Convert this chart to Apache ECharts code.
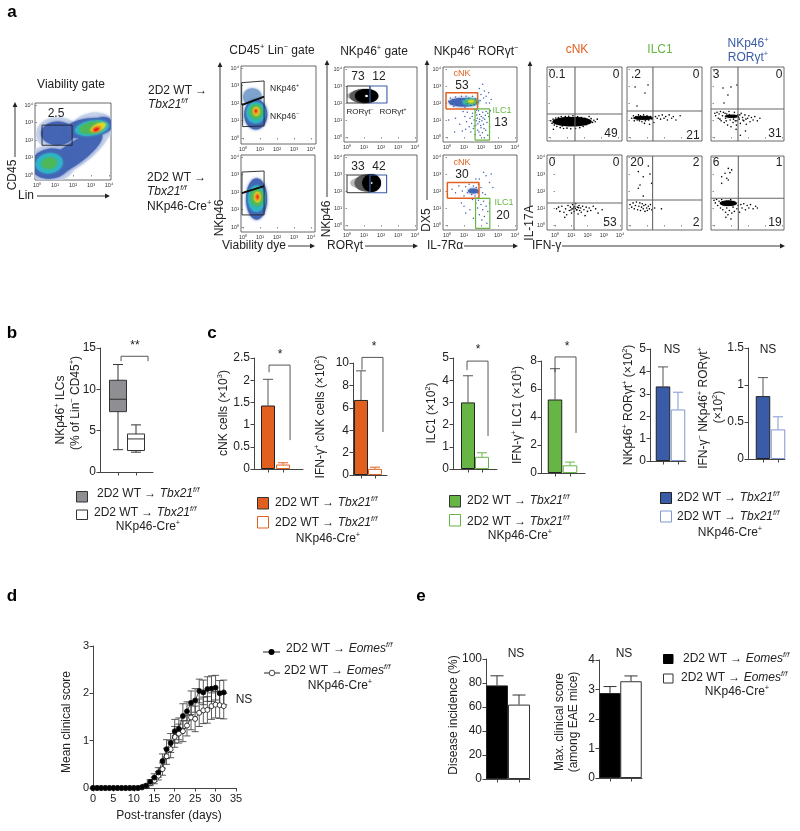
<!DOCTYPE html>
<html><head><meta charset="utf-8"><style>html,body{margin:0;padding:0;background:#fff}#c{width:800px;height:831px}</style>
<script src="https://cdn.jsdelivr.net/npm/echarts@6/dist/echarts.min.js"></script></head><body><div id="c"></div>
<script>
// ---------- data ----------
const logTicks=[0,1,2,3,4];
const boxWT=[1,2.7,7.3,8.8,11.1,13.0], boxCre=[2,2.4,2.6,4.0,4.6,5.7];
const cNKcells=[1.43,0.10], cNKcellsErr=[2.02,0.14];
const ifnCNK=[6.7,0.55], ifnCNKErr=[9.3,0.7];
const ilc1=[3.0,0.55], ilc1Err=[4.2,0.73];
const ifnILC1=[5.25,0.55], ifnILC1Err=[7.45,0.78];
const ror=[3.33,2.3], rorErr=[4.2,3.07];
const ifnRor=[0.85,0.4], ifnRorErr=[1.1,0.57];
const incidence=[78,62], incidenceErr=[86,70];
const maxScore=[2.88,3.28], maxScoreErr=[3.1,3.46];
const days=[0,1,2,3,4,5,6,7,8,9,10,11,12,13,14,15,16,17,18,19,20,21,22,23,24,25,26,27,28,29,30,31,32];
const eomesWT=[0,0,0,0,0,0,0,0,0,0,0,0,0.02,0.05,0.13,0.22,0.33,0.57,0.82,0.95,1.2,1.25,1.52,1.62,1.8,1.85,2.05,2.02,2.09,2.1,2.12,2.0,2.02];
const eomesWTErr=[0,0,0,0,0,0,0,0,0,0,0,0,0,0.03,0.05,0.08,0.1,0.15,0.2,0.2,0.25,0.23,0.26,0.2,0.25,0.25,0.25,0.26,0.26,0.27,0.26,0.27,0.26];
const eomesCre=[0,0,0,0,0,0,0,0,0,0,0,0,0.01,0.04,0.1,0.16,0.26,0.4,0.67,0.82,1.08,1.15,1.2,1.32,1.49,1.46,1.59,1.64,1.65,1.73,1.76,1.75,1.73];
const eomesCreErr=[0,0,0,0,0,0,0,0,0,0,0,0,0,0.03,0.05,0.07,0.09,0.13,0.17,0.18,0.22,0.2,0.22,0.22,0.26,0.27,0.29,0.28,0.28,0.28,0.28,0.28,0.27];
// clouds: [log x, log y, half-width, half-height, tilt, density level]
const cloudViability=[[2.0,1.45,2.4,1.0,35,0],[1.15,2.35,1.2,.95,0,0],[3.1,2.7,1.2,.85,10,0],[.75,.65,1.35,1.05,0,0],
 [1.15,2.38,.92,.68,0,1],[1.95,1.15,2.0,.62,35,1],[.75,.65,1.1,.85,10,1],[2.85,2.68,1.35,.55,8,1],[3.7,2.9,.5,.42,0,1],
 [3.05,2.68,.95,.42,10,3],[.68,.67,.75,.57,10,3],[3.05,2.7,.7,.32,12,4],[.68,.67,.42,.32,10,4],[3.4,2.72,.45,.2,25,5],[3.3,2.62,.26,.14,25,6],[3.3,2.6,.14,.08,25,7]];
const cloudLiveTop=[[.55,2.35,.55,.5,0,2],[.75,1.35,.68,.86,0,1],[.75,1.45,.55,.6,0,3],[.76,1.5,.38,.42,0,4],[.78,1.52,.2,.25,0,5],[.76,1.52,.12,.16,0,6],[.76,1.55,.05,.07,0,7]];
const cloudLiveBottom=[[.8,1.6,.62,1.18,0,1],[.8,1.62,.5,.75,0,3],[.82,1.68,.38,.5,0,4],[.85,1.72,.2,.3,0,5],[.85,1.72,.12,.2,0,6],[.85,1.72,.05,.08,0,7]];
const contourTop=[[.55,2.42,.55,.24,0,8],[1.0,2.41,.85,.42,0,9],[1.15,2.41,.68,.41,0,10],[1.15,2.41,.07,.06,0,11]];
const contourBottom=[[.7,2.47,.5,.28,0,8],[1.15,2.47,.7,.5,0,9],[1.45,2.47,.55,.53,0,10],[1.45,2.47,.05,.05,0,11]];
const cloudGateTop=[[.95,2.05,.85,.25,0,1],[1.4,2.07,.5,.2,0,3],[1.4,2.07,.36,.14,0,4],[1.42,2.1,.2,.08,0,5]];
const cloudGateBottom=[[1.55,2.0,.32,.14,0,1]];
const cloudQ1=[[1.3,.9,1.15,.27,0,10]];
const cloudQ2=[[.78,1.12,.58,.11,0,10]];
const cloudQ3=[[1.05,1.22,.42,.09,0,10]];
const cloudQ6=[[.84,1.28,.5,.16,0,10]];
// individual events
const dotsGateTop=[[.1,2.1],[.2,2.3],[.25,1.95],[.35,2.2],[.4,1.8],[.5,2.35],[.55,2.05],[.62,1.9],[.7,2.25],[.78,2.0],[.85,2.4],[.9,1.85],[1,2.2],[1.05,1.75],[1.12,2.4],[1.2,1.95],[1.28,2.3],[1.4,1.85],[1.5,2.4],[1.6,1.9],[1.68,2.25],[1.75,2.0],[2.1,3.1],[1.9,2.85],[2.2,2.7],[2.45,2.6],[2.0,2.5],[2.3,2.4],[2.6,2.2],[2.15,2.3],[2.5,2.0],[1.95,2.15],[2.3,2.0],[.95,1.5],[1.05,1.2],[1.15,.9],[1.2,1.45],[1.3,.6],[1.35,1.1],[1.4,.3],[1.45,.8],[1.5,1.4],[1.55,.5],[1.6,1.0],[1.65,.15],[1.7,.7],[1.75,1.3],[1.8,.4],[1.85,1.55],[1.9,.9],[1.95,.1],[2,.55],[2.02,1.2],[2.08,.25],[2.1,1.45],[2.15,.75],[2.2,-.05],[2.22,1.05],[2.28,.4],[2.3,1.5],[2.35,.85],[2.4,.1],[2.45,1.2],[2.5,.6],[2.55,1.55],[1.78,1.1],[1.88,.3],[2.05,.95],[2.18,.5],[.5,1.1],[.75,.75],[.9,.35],[.1,1.0],[.45,.3],[1.1,.45],[1.68,1.45],[1.82,.78],[1.72,1.58],[1.92,1.32],[1.98,.68],[2.12,1.12],[2.25,1.28],[1.92,1.05],[2.4,1.4],[1.6,.65],[1.48,1.2],[1.72,.95]];
const dotsGateBottom=[[.3,2.1],[.5,1.9],[.7,2.3],[.9,2.0],[1.0,1.7],[1.1,2.25],[1.2,1.9],[1.3,2.4],[1.4,2.1],[1.45,1.8],[1.55,2.3],[1.6,2.0],[1.65,1.7],[1.72,2.2],[1.8,1.9],[1.85,2.4],[2.0,2.2],[2.1,1.9],[2.25,1.8],[1.9,2.7],[2.15,3.1],[2.3,2.9],[2.6,3.0],[2.5,2.5],[2.7,2.2],[1.7,2.7],[1.5,1.5],[1.7,1.3],[1.8,1.0],[1.85,1.45],[1.9,.6],[2,1.2],[2.05,.3],[2.1,.9],[2.15,1.4],[2.2,.5],[2.3,1.1],[2.35,.1],[2.4,.8],[2.5,1.3],[1.35,.9],[1.1,.7],[.85,1.3],[1.0,1.1],[1.55,.4]];
const dotsQ1=[[.05,.95],[.12,.8],[.18,1.05],[.25,.7],[.3,.9],[.34,1.12],[.4,.62],[.45,.85],[.5,1.15],[.55,.75],[.6,.55],[.66,1.2],[.72,.65],[.8,.5],[.9,1.2],[1,.52],[1.1,1.22],[1.22,.48],[1.35,1.25],[1.5,.5],[1.62,1.2],[1.75,.55],[1.85,1.15],[1.95,.62],[2.05,1.1],[2.12,.72],[2.2,1.02],[2.28,.82],[2.35,.95],[2.42,1.08],[2.5,.86],[2.58,.98],[2.66,.9],[2.78,1.05],[.2,.45],[2.0,.9],[2.3,1.2]];
const dotsQ2=[[.3,2.94],[1.06,3.06],[.88,2.59],[.41,1.82],[.1,1.1],[.2,1.25],[.25,.95],[.35,1.2],[.42,1.0],[.5,1.3],[.55,.95],[.62,1.25],[.7,.9],[.8,1.3],[.9,.95],[1,1.25],[1.1,1.0],[1.2,1.2],[1.3,1.05],[1.4,.85],[1.5,1.2],[1.6,1.1],[1.7,1.25],[1.8,1.05],[1.9,1.3],[2,1.1],[2.1,1.2],[2.2,1.0],[2.3,1.3],[2.45,1.1],[2.55,1.2],[2.7,1.0],[2.95,1.25],[1.15,.75],[.85,.8]];
const dotsQ3=[[.53,2.88],[1.0,2.94],[1.35,3.06],[.82,2.47],[.59,2.0],[.05,1.4],[.1,1.25],[.18,1.45],[.25,1.1],[.3,1.35],[.38,1.5],[.42,.95],[.5,1.25],[.55,1.45],[.6,.85],[.68,1.1],[.75,1.35],[.8,.7],[.88,1.5],[.95,1.0],[1.0,.6],[1.05,1.25],[1.12,.85],[1.2,1.45],[1.25,.95],[1.32,.7],[1.4,1.3],[1.48,1.05],[1.55,.8],[1.6,1.4],[1.68,1.15],[1.75,.95],[1.82,1.3],[1.9,.75],[1.98,1.1],[2.05,1.25],[2.12,.9],[2.2,1.15],[2.3,1.0],[2.4,1.2],[2.55,.95],[2.7,1.1],[1.3,.45],[1.55,.1],[1.85,.35],[.35,1.05],[.65,1.4],[.9,1.3],[1.15,1.05],[1.35,.95],[1.52,1.3],[1.7,1.0],[1.45,1.15],[.72,.95],[1.88,1.05]];
const dotsQ4=[[.1,.95],[.22,1.05],[.3,.8],[.42,1.1],[.55,.75],[.65,.95],[.72,.6],[.8,1.15],[.88,.85],[.95,1.05],[1.02,.7],[1.08,1.2],[1.12,.95],[1.18,.8],[1.22,1.1],[1.28,1.25],[1.32,.9],[1.38,1.05],[1.42,.65],[1.48,1.15],[1.52,.85],[1.58,1.0],[1.62,.75],[1.7,1.1],[1.78,.9],[1.85,.55],[1.92,1.05],[2.0,.8],[2.1,1.0],[2.2,.85],[2.35,1.1],[2.5,.95],[2.65,.7],[2.9,.9],[.6,.45],[1.05,.95],[1.15,1.05],[1.25,.98],[1.35,.88],[1.45,1.02],[.98,.88]];
const dotsQ5=[[1.08,3.47],[.49,3.14],[1.18,3.0],[.78,2.84],[.59,2.35],[.49,2.16],[.78,1.7],[1.27,2.45],[0,1.2],[.1,1.05],[.18,1.3],[.25,.95],[.32,1.15],[.38,1.35],[.45,.9],[.52,1.1],[.58,1.3],[.62,.85],[.68,1.05],[.72,1.25],[.78,.95],[.82,1.15],[.88,.8],[.92,1.2],[.98,1.0],[1.02,.85],[1.08,1.1],[1.14,.95],[1.2,1.2],[1.28,.9],[1.45,1.0],[1.85,.95]];
const dotsQ6=[[.84,3.33],[.94,3.08],[.45,2.84],[.75,2.75],[.45,2.45],[1.04,3.24],[.65,3.04],[.84,2.65],[.0,1.45],[.08,1.3],[.15,1.5],[.22,1.15],[.3,1.4],[.38,1.0],[.45,1.5],[.52,.9],[.6,1.2],[.68,.75],[.75,1.0],[.82,.6],[.9,.85],[.98,1.5],[1.05,.7],[1.12,1.05],[1.2,.8],[1.28,1.25],[1.35,.95],[1.42,1.15],[1.5,.75],[1.58,1.2],[1.65,1.0],[1.75,1.25],[1.85,.9],[1.95,1.15],[2.05,1.0],[2.15,1.2],[2.3,.95],[2.45,1.1],[2.55,1.0],[.7,.45],[1.0,.35]];
// gates
const gateViability=[[.28,1.7],[1.95,1.7],[1.95,2.85],[.28,2.85],[.28,1.7]];
const gatePosTop=[[-.08,3.16],[1.24,3.26],[1.24,2.36],[-.08,1.89],[-.08,3.16]];
const gateNegTop=[[-.02,1.89],[1.24,2.36],[1.24,.69],[-.02,.65],[-.02,1.89]];
const gatePosBottom=[[-.06,3.14],[1.24,3.2],[1.24,2.34],[-.06,1.94],[-.06,3.14]];
const gateNegBottom=[[-.06,1.94],[1.24,2.34],[1.24,.69],[-.06,.69],[-.06,1.94]];
const gateSplitTop=[[-.05,1.89],[1.24,2.36]], gateSplitBottom=[[-.06,1.94],[1.24,2.34]];
const rorNegTop=[[0,2],[1.35,2],[1.35,3],[0,3],[0,2]], rorPosTop=[[1.35,2],[2.35,2],[2.35,3],[1.35,3],[1.35,2]];
const rorNegBottom=[[0,1.9],[1.35,1.9],[1.35,2.94],[0,2.94],[0,1.9]], rorPosBottom=[[1.35,1.9],[2.33,1.9],[2.33,2.94],[1.35,2.94],[1.35,1.9]];
const cnkGateTop=[[-.06,1.65],[1.8,1.65],[1.8,2.6],[-.06,2.6],[-.06,1.65]], ilcGateTop=[[1.65,-.18],[2.5,-.18],[2.5,1.65],[1.65,1.65],[1.65,-.18]];
const cnkGateBottom=[[.02,1.57],[1.88,1.57],[1.88,2.5],[.02,2.5],[.02,1.57]], ilcGateBottom=[[1.68,-.2],[2.52,-.2],[2.52,1.57],[1.68,1.57],[1.68,-.2]];

// ---------- drawing ----------
const FONT="'Liberation Sans',Arial,sans-serif", INK='#222', ORANGE='#e2601f', GREEN='#66b545', BLUE='#3a5ba8', GREY='#8e8e93';
const LEVELS=['#c6d2ea','#4464b4','#7fa3cf','#2fb4c6','#4cb85a','#d8d82c','#f28a1e','#e5261f','#b9b9b9','#5a5a5a','#000000','#ffffff'];
const SUP=['⁰','¹','²','³','⁴'];
const grid=[],xAxis=[],yAxis=[],series=[],graphic=[];
const line=(g,data,color,w=1,z=5)=>series.push({type:'line',xAxisIndex:g,yAxisIndex:g,data,showSymbol:false,symbol:'none',clip:false,silent:true,z,lineStyle:{color,width:w}});

function flow(p){
  const g=grid.length,kx=(p.x4-p.x0)/4,ky=(p.y0-p.y4)/4;
  grid.push({left:p.l,top:p.t,width:p.r-p.l,height:p.b-p.t,show:true,borderColor:'#444',borderWidth:.8,backgroundColor:'transparent'});
  const ax=(min,max)=>({type:'value',gridIndex:g,min,max,splitLine:{show:false},axisLine:{show:false},
    axisTick:{show:true,length:1.5,customValues:logTicks,lineStyle:{color:'#444',width:.6}},
    axisLabel:{show:!!p.labels,customValues:logTicks,formatter:v=>'10'+SUP[v],fontSize:5.5,margin:2,color:'#333',fontFamily:FONT,showMinLabel:true,showMaxLabel:true}});
  xAxis.push(ax((p.l-p.x0)/kx,(p.r-p.x0)/kx));
  yAxis.push(ax((p.y0-p.b)/ky,(p.y0-p.t)/ky));
  if(p.clouds) series.push({type:'custom',xAxisIndex:g,yAxisIndex:g,clip:true,silent:true,z:2,data:p.clouds,encode:{x:0,y:1},
    renderItem:(_,api)=>{const c=api.coord([api.value(0),api.value(1)]),s=api.size([api.value(2),api.value(3)]),col=LEVELS[api.value(5)];
      const hard=api.value(5)>=8;
      return {type:'ellipse',x:c[0],y:c[1],rotation:api.value(4)*Math.PI/180,shape:{cx:0,cy:0,rx:s[0],ry:s[1]},
        style:{fill:col,shadowBlur:hard?1:3,shadowColor:col}};}});
  if(p.dots) series.push({type:'scatter',xAxisIndex:g,yAxisIndex:g,data:p.dots,symbolSize:p.dotSize||1.6,silent:true,z:3,clip:true,itemStyle:{color:p.dotColor||'#000',opacity:1}});
  (p.gates||[]).forEach(q=>line(g,q[0],q[1],q[2]||1,6));
  if(p.cut){const [vx,hy]=p.cut,xa=xAxis[g],ya=yAxis[g];
    line(g,[[vx,ya.min],[vx,ya.max]],'#666',1.1,6);line(g,[[xa.min,hy],[xa.max,hy]],'#666',1.1,6);}
}
const A={labels:true};
flow({...A,l:35,t:103,r:111,b:180,x0:37,x4:109,y0:175,y4:105,clouds:cloudViability,gates:[[gateViability,'#222',.9]]});
flow({...A,l:241,t:66,r:316,b:144,x0:243,x4:311,y0:138,y4:68,clouds:cloudLiveTop,gates:[[gatePosTop,'#222',.9],[gateNegTop,'#222',.9],[gateSplitTop,'#111',1.8]]});
flow({...A,l:241,t:155,r:315,b:232,x0:243,x4:311,y0:227,y4:157,clouds:cloudLiveBottom,gates:[[gatePosBottom,'#222',.9],[gateNegBottom,'#222',.9],[gateSplitBottom,'#111',1.8]]});
flow({...A,l:344,t:67,r:417,b:142,x0:347,x4:415,y0:137,y4:69,clouds:contourTop,gates:[[rorNegTop,'#222',.9],[rorPosTop,BLUE,1.1]]});
flow({...A,l:344,t:155,r:417,b:230,x0:347,x4:415,y0:225,y4:157,clouds:contourBottom,gates:[[rorNegBottom,'#222',.9],[rorPosBottom,BLUE,1.1]]});
flow({...A,l:443,t:67,r:517,b:142,x0:447,x4:515,y0:137,y4:69,clouds:cloudGateTop,dots:dotsGateTop,dotColor:'#3d5fae',dotSize:1.5,gates:[[cnkGateTop,ORANGE,1.5],[ilcGateTop,GREEN,1.2]]});
flow({...A,l:443,t:155,r:517,b:230,x0:447,x4:515,y0:225,y4:157,clouds:cloudGateBottom,dots:dotsGateBottom,dotColor:'#3d5fae',dotSize:1.5,gates:[[cnkGateBottom,ORANGE,1.5],[ilcGateBottom,GREEN,1.2]]});
flow({l:547,t:67,r:622,b:141,x0:550,x4:618,y0:137,y4:69,clouds:cloudQ1,dots:dotsQ1,cut:[1.47,1.35]});
flow({l:627,t:67,r:702,b:141,x0:630,x4:698,y0:137,y4:69,clouds:cloudQ2,dots:dotsQ2,cut:[1.35,1.53]});
flow({l:711,t:67,r:784,b:141,x0:714,x4:782,y0:137,y4:69,clouds:cloudQ3,dots:dotsQ3,cut:[1.41,1.65]});
flow({...A,l:547,t:155,r:622,b:230,x0:555,x4:620,y0:225,y4:157,dots:dotsQ4,cut:[1.17,1.29]});
flow({l:627,t:156,r:702,b:230,x0:630,x4:698,y0:225,y4:157,dots:dotsQ5,cut:[1.33,1.47]});
flow({l:711,t:156,r:784,b:230,x0:714,x4:782,y0:225,y4:157,clouds:cloudQ6,dots:dotsQ6,cut:[1.43,1.57]});

function plotAxes(p){
  const g=grid.length,k=(p.tick2-p.tick1);
  grid.push({left:p.l,top:p.t,width:p.r-p.l,height:p.b-p.t});
  xAxis.push({type:'value',gridIndex:g,min:p.xMin??1-(p.tick1-p.l)/k,max:p.xMax??1+(p.r-p.tick1)/k,interval:p.xInterval,splitLine:{show:false},
    axisLine:{onZero:false,lineStyle:{color:'#444',width:1}},
    axisTick:{length:3.5,customValues:p.xInterval?undefined:[1,2],lineStyle:{color:'#444',width:1}},
    axisLabel:p.xInterval?{fontSize:p.fs||11,color:INK,margin:5,fontFamily:FONT}:{show:false}});
  yAxis.push({type:'value',gridIndex:g,min:0,max:p.yMax,interval:p.yStep,splitLine:{show:false},
    axisLine:{onZero:false,lineStyle:{color:'#444',width:1}},axisTick:{length:3.5,lineStyle:{color:'#444',width:1}},
    axisLabel:{fontSize:p.fs||12,color:INK,margin:4,fontFamily:FONT,formatter:v=>String(v)}});
  return g;
}
const errSeries=(g,data,colors,cap)=>series.push({type:'custom',xAxisIndex:g,yAxisIndex:g,silent:true,z:2,data,encode:{x:0,y:[1,2]},
  renderItem:(_,api)=>{const a=api.coord([api.value(0),api.value(1)]),b=api.coord([api.value(0),api.value(2)]),st={stroke:colors[_.dataIndex],lineWidth:1,fill:null};
    return {type:'group',children:[{type:'line',shape:{x1:a[0],y1:a[1],x2:b[0],y2:b[1]},style:st},{type:'line',shape:{x1:b[0]-cap,y1:b[1],x2:b[0]+cap,y2:b[1]},style:st}]};}});
function barPanel(p){
  const g=plotAxes(p);
  errSeries(g,[[1,p.v[0],p.e[0]],[2,p.v[1],p.e[1]]],[p.errA||'#555',p.color2],p.cap||5);
  series.push({type:'bar',xAxisIndex:g,yAxisIndex:g,barWidth:p.bw,silent:true,z:3,data:[
    {value:[1,p.v[0]],itemStyle:{color:p.color,borderColor:'#222',borderWidth:1}},
    {value:[2,p.v[1]],itemStyle:{color:'#fff',borderColor:p.color2,borderWidth:1}}]});
  if(p.bracket) line(g,p.bracket,'#444',.9,4);
}
// b: box plot
{
  const g=plotAxes({l:100,t:348,r:153,b:472,tick1:118,tick2:136,yMax:15,yStep:5});
  series.push({type:'custom',xAxisIndex:g,yAxisIndex:g,silent:true,z:3,data:[boxWT,boxCre],encode:{x:0,y:[1,2,3,4,5]},
    renderItem:(_,api)=>{const x=api.value(0),C=v=>api.coord([x,v]),[mn,q1,md,q3,mx]=[1,2,3,4,5].map(i=>C(api.value(i)));
      const fill=_.dataIndex?'#fff':GREY,st={stroke:'#333',lineWidth:1,fill:null},hw=8.5,cw=5,cx=mn[0];
      const L=(a,b,c,d)=>({type:'line',shape:{x1:a,y1:b,x2:c,y2:d},style:st});
      return {type:'group',children:[L(cx,mn[1],cx,mx[1]),L(cx-cw,mn[1],cx+cw,mn[1]),L(cx-cw,mx[1],cx+cw,mx[1]),
        {type:'rect',shape:{x:cx-hw,y:q3[1],width:2*hw,height:q1[1]-q3[1]},style:{fill,stroke:'#333',lineWidth:1}},L(cx-hw,md[1],cx+hw,md[1])]};}});
  line(g,[[1.17,13.4],[1.17,14],[2.67,14],[2.67,13.4]],'#444',.9,4);
}
// c
barPanel({l:254,t:358,r:303,b:469,tick1:268,tick2:283,yMax:2.5,yStep:.5,v:cNKcells,e:cNKcellsErr,color:ORANGE,color2:ORANGE,bw:14,bracket:[[1.07,2.18],[1.07,2.34],[2.47,2.34],[2.47,.65]]});
barPanel({l:353,t:363,r:387,b:475,tick1:361,tick2:375,yMax:10,yStep:2,v:ifnCNK,e:ifnCNKErr,color:ORANGE,color2:ORANGE,bw:14,bracket:[[1.07,9.4],[1.07,10.5],[2.57,10.5],[2.57,3.84]]});
barPanel({l:453,t:358,r:497,b:469,tick1:468,tick2:482,yMax:5,yStep:1,v:ilc1,e:ilc1Err,color:GREEN,color2:GREEN,bw:14,bracket:[[.93,4.46],[.93,4.86],[2.43,4.86],[2.43,1.49]]});
barPanel({l:541,t:361,r:585,b:473,tick1:555,tick2:570,yMax:8,yStep:2,v:ifnILC1,e:ifnILC1Err,color:GREEN,color2:GREEN,bw:14.5,bracket:[[1,7.2],[1,8.29],[2.4,8.29],[2.4,2.86]]});
barPanel({l:650,t:349,r:686,b:461,tick1:663,tick2:678,yMax:5,yStep:1,v:ror,e:rorErr,color:BLUE,color2:'#7f98cf',bw:14.5});
barPanel({l:748,t:348,r:785,b:459,tick1:763,tick2:778,yMax:1.5,yStep:.5,v:ifnRor,e:ifnRorErr,color:BLUE,color2:'#7f98cf',bw:14.5});
// d: time course
{
  const g=plotAxes({l:93,t:646,r:236,b:788,tick1:0,tick2:1,xMin:0,xMax:35,xInterval:5,yMax:3,yStep:1,fs:11});
  const errs=(m,e)=>days.map((d,i)=>[d,Math.max(m[i]-e[i],0),m[i]+e[i]]).filter(r=>r[2]>r[1]);
  const whisk=(data)=>series.push({type:'custom',xAxisIndex:g,yAxisIndex:g,silent:true,z:2,data,encode:{x:0,y:[1,2]},
    renderItem:(_,api)=>{const a=api.coord([api.value(0),api.value(1)]),b=api.coord([api.value(0),api.value(2)]),st={stroke:'#333',lineWidth:.8,fill:null},L=(x1,y1,x2,y2)=>({type:'line',shape:{x1,y1,x2,y2},style:st});
      return {type:'group',children:[L(a[0],a[1],b[0],b[1]),L(a[0]-3.5,a[1],a[0]+3.5,a[1]),L(b[0]-3.5,b[1],b[0]+3.5,b[1])]};}});
  whisk(errs(eomesCre,eomesCreErr));whisk(errs(eomesWT,eomesWTErr));
  const ser=(v,fill,z)=>series.push({type:'line',xAxisIndex:g,yAxisIndex:g,data:days.map((d,i)=>[d,v[i]]),symbol:'circle',symbolSize:5,showAllSymbol:true,clip:false,silent:true,z,lineStyle:{color:'#222',width:.8},itemStyle:{color:fill,borderColor:'#111',borderWidth:.8}});
  ser(eomesCre,'#fff',4);ser(eomesWT,'#000',5);
}
// e
barPanel({l:486,t:659,r:530,b:779,tick1:497,tick2:519,yMax:100,yStep:20,v:incidence,e:incidenceErr,color:'#000',color2:'#333',bw:22,cap:6.5,errA:'#333'});
barPanel({l:599,t:660,r:642,b:778,tick1:610,tick2:631,yMax:4,yStep:1,v:maxScore,e:maxScoreErr,color:'#000',color2:'#333',bw:21.5,cap:6.5,errA:'#333'});

// ---------- text ----------
function T(x,y,str,o={}){
  const fs=o.fs||12,c=o.color||INK,base={fontSize:fs,fontFamily:FONT,color:c,lineHeight:Math.round(fs*1.25)};
  const rich={n:{...base},i:{...base,fontStyle:'italic'},s:{...base,fontSize:fs*.62,verticalAlign:'top'},si:{...base,fontSize:fs*.62,fontStyle:'italic',verticalAlign:'top'},b:{...base,fontWeight:'bold'}};
  const text=str.split(/(\^[^^]*\^|\*[^*]+\*|~[^~]+~)/).filter(Boolean).map(t=>{
    if(t.length>2&&t[0]=='^')return `{s|${t.slice(1,-1)}}`;
    if(t.length>2&&t[0]=='*')return `{i|${t.slice(1,-1)}}`;
    if(t.length>2&&t[0]=='~')return `{si|${t.slice(1,-1)}}`;
    return `{${o.bold?'b':'n'}|${t}}`;}).join('');
  graphic.push({type:'text',x,y,rotation:o.rot?Math.PI/2:0,z:20,silent:true,style:{text,rich,align:o.align||'left',verticalAlign:'middle',fill:c}});
}
const C={align:'center'};
function arrow(x1,y1,x2,y2){
  const d=Math.hypot(x2-x1,y2-y1),ux=(x2-x1)/d,uy=(y2-y1)/d,h=5,w=2.4,bx=x2-ux*h,by=y2-uy*h;
  graphic.push({type:'line',z:20,silent:true,shape:{x1,y1,x2:bx,y2:by},style:{stroke:'#222',lineWidth:.9}});
  graphic.push({type:'polygon',z:20,silent:true,shape:{points:[[x2,y2],[bx-uy*w,by+ux*w],[bx+uy*w,by-ux*w]]},style:{fill:'#222'}});
}
function sq(x,y,w,h,fill,stroke){graphic.push({type:'rect',z:20,silent:true,shape:{x,y,width:w,height:h},style:{fill,stroke,lineWidth:1}});}
const tbx='2D2 WT → *Tbx21*~f/f~', eom='2D2 WT → *Eomes*~f/f~', cre='NKp46-Cre^+^';
[['a',12,12],['b',12,333],['c',212,333],['d',12,596],['e',421,596]].forEach(l=>T(l[1],l[2],l[0],{fs:17,bold:true,align:'center',color:'#000'}));
// a headers
T(71,85,'Viability gate',{...C});T(56,114,'2.5',{...C});
T(13,175,'CD45',{...C,rot:1});T(18,196,'Lin');arrow(37,196,110,196);arrow(15,157,15,102);
T(148,91,'2D2 WT →');T(148,105,'*Tbx21*~f/f~');T(147,178,'2D2 WT →');T(147,192,'*Tbx21*~f/f~');T(147,207,cre);
T(272,51,'CD45^+^ Lin^−^ gate',C);T(270,89,'NKp46^+^',{fs:8.5});T(270,117,'NKp46^−^',{fs:8.5});
T(220,218,'NKp46',{...C,rot:1});arrow(220,200,220,62);T(222,246,'Viability dye');arrow(288,246,315,246);
T(374,52,'NKp46^+^ gate',C);T(327,219,'NKp46',{...C,rot:1});arrow(327,197,327,60);T(327,246,'RORγt');arrow(365,246,418,246);
T(358,77,'73',C);T(379,77,'12',C);T(358,167,'33',C);T(379,167,'42',C);
T(360,112,'RORγt^−^',{...C,fs:8});T(393,112,'RORγt^+^',{...C,fs:8});
T(476,52,'NKp46^+^ RORγt^−^',C);T(427,220,'DX5',{...C,rot:1});arrow(427,200,427,60);T(427,246,'IL-7Rα');arrow(464,246,518,246);
T(462,74,'cNK',{...C,fs:9,color:ORANGE});T(462,86,'53',C);T(502,111,'ILC1',{...C,fs:9,color:GREEN});T(501,123,'13',C);
T(462,163,'cNK',{...C,fs:9,color:ORANGE});T(462,175,'30',C);T(504,203,'ILC1',{...C,fs:9,color:GREEN});T(503,216,'20',C);
T(577,50,'cNK',{...C,color:ORANGE});T(660,50,'ILC1',{...C,color:GREEN});T(748,44,'NKp46^+^',{...C,color:BLUE});T(748,58,'RORγt^+^',{...C,color:BLUE});
T(530,223,'IL-17A',{...C,rot:1});arrow(530,207,530,61);T(532,246,'IFN-γ');arrow(562,246,785,246);
[[557,75,'0.1'],[616,75,'0'],[636,75,'.2'],[696,75,'0'],[716,75,'3'],[779,75,'0'],[611,134,'49'],[693,136,'21'],[775,134,'31'],
 [552,163,'0'],[616,163,'0'],[637,163,'20'],[696,163,'2'],[716,163,'6'],[779,163,'1'],[610,223,'53'],[696,223,'2'],[775,223,'19']].forEach(q=>T(q[0],q[1],q[2],C));
// b
T(61,410,'NKp46^+^ ILCs',{...C,rot:1});T(76,403,'(% of Lin^−^ CD45^+^)',{...C,rot:1});T(135,346,'**',{...C,fs:12});
sq(76.5,491.5,11,10.5,GREY,'#333');T(97,494,tbx);sq(76.5,510,11,9.5,'#fff','#333');T(94,513,tbx);T(148,527,cre,C);
// c
T(224,413,'cNK cells (×10^3^)',{...C,rot:1});T(321,417,'IFN-γ^+^ cNK cells (×10^2^)',{...C,rot:1});
T(432,413,'ILC1 (×10^2^)',{...C,rot:1});T(518,415,'IFN-γ^+^ ILC1 (×10^1^)',{...C,rot:1});
T(629,405,'NKp46^+^ RORγt^+^ (×10^2^)',{...C,rot:1});T(704,408,'IFN-γ^−^ NKp46^+^ RORγt^+^',{...C,rot:1});T(719,407,'(×10^2^)',{...C,rot:1});
T(672,350,'NS',C);T(768,350,'NS',C);
[[280,355],[374,347],[478,350],[567,347]].forEach(s=>T(s[0],s[1],'*',{...C,fs:12}));
sq(257.5,497.5,11,11.5,ORANGE,'#333');T(275,503,tbx);sq(257.5,516.5,11,11.5,'#fff',ORANGE);T(275,523,tbx);T(328,539,cre,C);
sq(449.5,495.5,11,11.5,GREEN,'#333');T(467,501,tbx);sq(449.5,514.5,11,11.5,'#fff',GREEN);T(467,522,tbx);T(520,536,cre,C);
sq(660.5,492.5,11,11,BLUE,'#222');T(677,498,tbx);sq(660.5,511,11,11,'#fff','#7f98cf');T(677,517,tbx);T(730,533,cre,C);
// d
T(67,722,'Mean clinical score',{...C,rot:1});T(169,816,'Post-transfer (days)',C);T(244,700,'NS',C);
graphic.push({type:'line',z:20,silent:true,shape:{x1:263,y1:652,x2:280,y2:652},style:{stroke:'#222',lineWidth:1}},{type:'circle',z:21,silent:true,shape:{cx:271.5,cy:652,r:3},style:{fill:'#000'}});
graphic.push({type:'line',z:20,silent:true,shape:{x1:264,y1:673,x2:280,y2:673},style:{stroke:'#222',lineWidth:1}},{type:'circle',z:21,silent:true,shape:{cx:272,cy:673,r:2.8},style:{fill:'#fff',stroke:'#222',lineWidth:.8}});
T(286,649,eom);T(284,671,eom);T(340,686,cre,C);
// e
T(454,715,'Disease incidence (%)',{...C,rot:1});T(560,722,'Max. clinical score',{...C,rot:1});T(574,722,'(among EAE mice)',{...C,rot:1});
T(516,654,'NS',C);T(624,654,'NS',C);
sq(663.5,654.5,9.5,9,'#000','#000');T(683,659,eom);sq(663.5,674,9.5,9,'#fff','#333');T(681,678,eom);T(737,692,cre,C);

const chart=echarts.init(document.getElementById('c'),null,{renderer:'canvas'});
chart.setOption({animation:false,backgroundColor:'#fff',textStyle:{fontFamily:FONT},grid,xAxis,yAxis,series,graphic});
</script></body></html>
